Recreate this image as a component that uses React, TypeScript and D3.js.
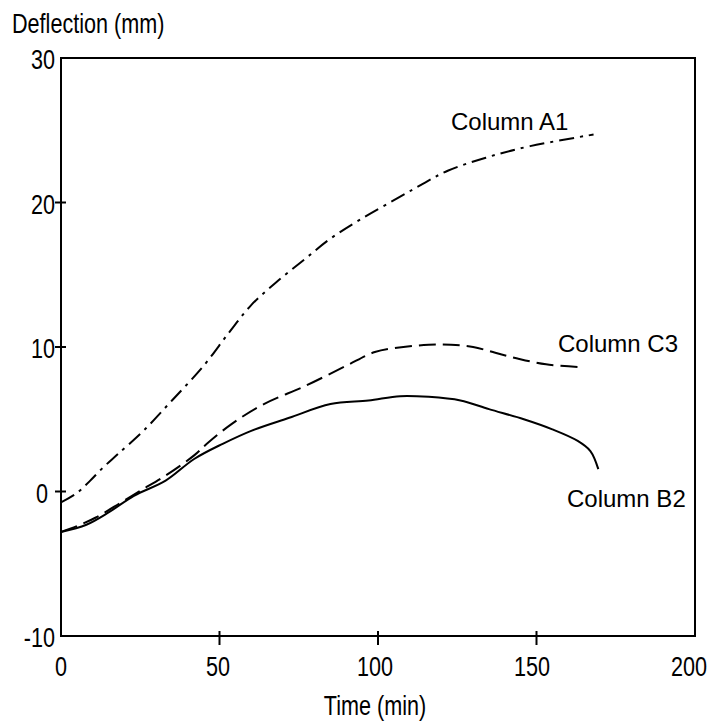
import React from "react";
import * as d3 from "d3";

const xTicks = [0, 50, 100, 150, 200];
const yTicks = [-10, 0, 10, 20, 30];

const a1Time = [0, 5, 9, 13, 18, 26, 35, 45, 53, 60, 68, 77, 85, 95, 107, 115, 122, 134, 148, 168];
const a1Defl = [-0.75, -0.1, 0.7, 1.6, 2.6, 4.2, 6.3, 8.7, 11.0, 12.9, 14.5, 16.1, 17.5, 18.9, 20.4, 21.4, 22.2, 23.1, 23.9, 24.7];

const c3Time = [0, 5, 11, 19, 25, 33, 42, 46, 54, 64, 77, 90, 99, 108, 116, 123, 130, 137, 144, 153, 164];
const c3Defl = [-2.8, -2.4, -1.8, -0.75, 0.05, 1.1, 2.5, 3.3, 4.7, 6.05, 7.3, 8.7, 9.65, 10.0, 10.15, 10.15, 10.0, 9.6, 9.2, 8.8, 8.6];

const b2Time = [0, 8, 15, 23, 33, 42, 51, 60, 72, 85, 97, 107, 116, 126, 135, 146, 155, 163, 167, 169.5];
const b2Defl = [-2.8, -2.3, -1.45, -0.3, 0.75, 2.25, 3.3, 4.2, 5.1, 6.05, 6.3, 6.6, 6.55, 6.3, 5.7, 5.0, 4.3, 3.5, 2.8, 1.55];

const seriesNames = ["Column A1", "Column C3", "Column B2"];

const font = "'Liberation Sans', Arial, sans-serif";

function NText(props: { x: number; y: number; anchor?: string; children: React.ReactNode }) {
  return (
    <text
      transform={`translate(${props.x},${props.y}) scale(0.8,1)`}
      textAnchor={props.anchor || "start"}
      fontFamily={font}
      fontSize={27}
      fill="#000"
    >
      {props.children}
    </text>
  );
}

export default function App() {
  const W = 710, H = 722;
  const x = d3.scaleLinear().domain([0, 200]).range([61, 695]);
  const y = d3.scaleLinear().domain([-10, 30]).range([636, 58]);
  const line = d3
    .line<[number, number]>()
    .x((d) => x(d[0]))
    .y((d) => y(d[1]))
    .curve(d3.curveCatmullRom.alpha(0.5));

  const zip = (t: number[], v: number[]) => t.map((tt, i) => [tt, v[i]] as [number, number]);

  const series = [
    { name: seriesNames[0], d: zip(a1Time, a1Defl), dash: "15,6,3,6", lx: 451, ly: 130 },
    { name: seriesNames[1], d: zip(c3Time, c3Defl), dash: "17,7", lx: 558, ly: 352 },
    { name: seriesNames[2], d: zip(b2Time, b2Defl), dash: "none", lx: 567, ly: 507 },
  ];

  return (
    <svg width={W} height={H} style={{ position: "absolute", left: 0, top: 0, background: "#fff" }}>
      <rect x={0} y={0} width={W} height={H} fill="#fff" />
      {series.map((s) => (
        <path
          key={s.name}
          d={line(s.d) || ""}
          fill="none"
          stroke="#000"
          strokeWidth={2}
          strokeDasharray={s.dash}
        />
      ))}
      <rect x={x(0)} y={y(30)} width={x(200) - x(0)} height={y(-10) - y(30)} fill="none" stroke="#000" strokeWidth={2} />
      {xTicks.map((t) => (
        <g key={"x" + t}>
          {t > 0 && t < 200 && <line x1={x(t)} x2={x(t)} y1={y(-10) - 5} y2={y(-10) + 9} stroke="#000" strokeWidth={2} />}
          <NText x={x(t) - t * 0.03} y={676} anchor="middle">
            {t}
          </NText>
        </g>
      ))}
      {yTicks.map((t) => (
        <g key={"y" + t}>
          {t > -10 && t < 30 && <line x1={x(0) - 6} x2={x(0) + 5} y1={y(t)} y2={y(t)} stroke="#000" strokeWidth={2} />}
          <NText x={t === 0 ? 48 : 55} y={y(t) + 11} anchor="end">
            {t}
          </NText>
        </g>
      ))}
      <NText x={12} y={33}>Deflection (mm)</NText>
      <NText x={375} y={715} anchor="middle">Time (min)</NText>
      {series.map((s) => (
        <text key={"l" + s.name} x={s.lx} y={s.ly} fontFamily={font} fontSize={24} fill="#000">
          {s.name}
        </text>
      ))}
    </svg>
  );
}
